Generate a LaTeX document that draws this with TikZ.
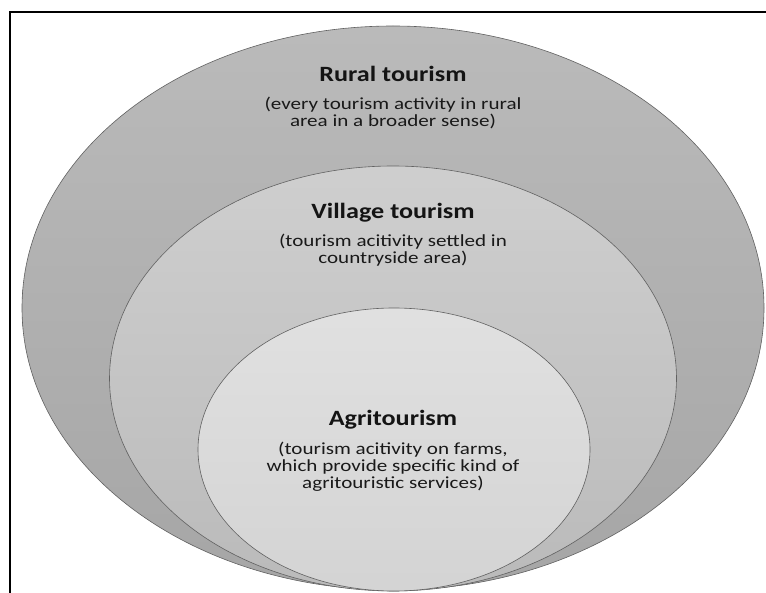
\documentclass[tikz,border=0pt]{standalone}
\usepackage{fontspec}
\setmainfont{Carlito}[FakeStretch=1.2]
\newfontfamily\subfont{Carlito}[FakeStretch=1.24]
\tikzset{
  ring/.style={draw=black!62, line width=0.6pt},
  ttl/.style={font=\fontsize{21.8}{25}\selectfont\bfseries, text=black!92, inner sep=0pt},
  sub/.style={font=\subfont\fontsize{17}{17.2}\selectfont, text=black!90, align=center, inner sep=0pt},
  frameline/.style={line width=2pt, draw=black}
}
\begin{document}
\begin{tikzpicture}[x=1pt,y=-1pt]
\useasboundingbox (0,0) rectangle (766,593);
\fill[white] (0,0) rectangle (766,593);
% frame
\draw[frameline] (9.5,593) -- (9.5,12.5) -- (766,12.5);
% rings
\shade[ring, top color=black!27, bottom color=black!35] (393,308) ellipse [x radius=371, y radius=282];
\shade[ring, top color=black!19, bottom color=black!27] (393,378.5) ellipse [x radius=283.5, y radius=212.5];
\shade[ring, top color=black!12, bottom color=black!17] (394,449.5) ellipse [x radius=196, y radius=141.5];
% texts
\node[ttl] (rt) at (393,74) {Rural tourism};
\node[sub] (rs) at (393,113) {(every tourism activity in rural\\area in a broader sense)};
\node[ttl] (vt) at (393,213) {Village tourism};
\node[sub] (vs) at (393,250) {(tourism acitivity settled in\\countryside area)};
\node[ttl] (at) at (393,420) {Agritourism};
\node[sub] (as) at (393,467) {(tourism acitivity on farms,\\which provide specific kind of\\agritouristic services)};
\end{tikzpicture}
\end{document}
